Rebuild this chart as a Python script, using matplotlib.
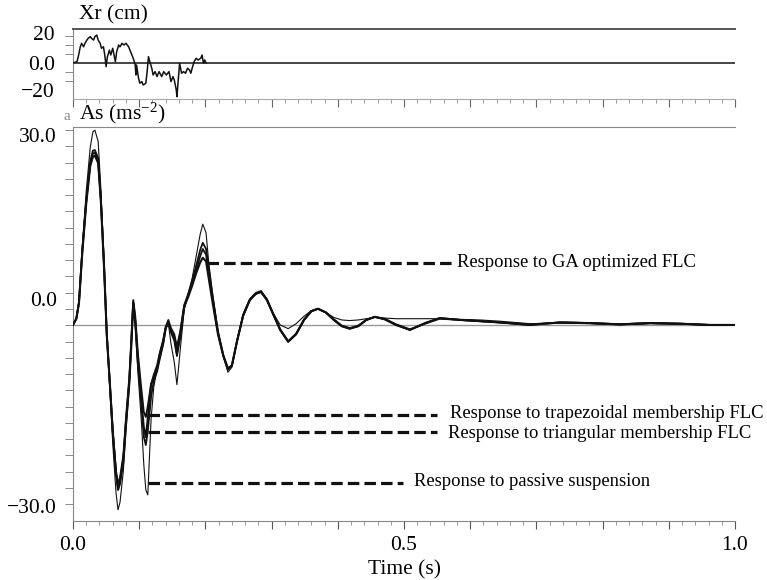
import numpy as np
import matplotlib
matplotlib.use("Agg")
import matplotlib.pyplot as plt

plt.rcParams["font.family"] = ["Liberation Serif", "DejaVu Serif"]
plt.rcParams["mathtext.fontset"] = "custom"
plt.rcParams["mathtext.rm"] = "Liberation Serif"
plt.rcParams["mathtext.it"] = "Liberation Serif:italic"

# ------------------------------------------------------------
# road input Xr (cm)
# ------------------------------------------------------------
t_xr = [0.000, 0.006, 0.008, 0.011, 0.013, 0.016, 0.018, 0.021, 0.023, 0.026,
        0.028, 0.031, 0.033, 0.036, 0.038, 0.041, 0.043, 0.046, 0.048, 0.050,
        0.052, 0.055, 0.057, 0.060, 0.064, 0.066, 0.069, 0.071, 0.074, 0.077,
        0.080, 0.084, 0.086, 0.089, 0.091, 0.094, 0.095, 0.096, 0.099, 0.101,
        0.104, 0.106, 0.110, 0.112, 0.114, 0.116, 0.119, 0.121, 0.124, 0.127,
        0.130, 0.134, 0.137, 0.141, 0.145, 0.148, 0.151, 0.153, 0.156, 0.157,
        0.159, 0.161, 0.164, 0.167, 0.170, 0.173, 0.176, 0.178, 0.180, 0.183,
        0.186, 0.189, 0.193, 0.195, 0.197, 0.199, 0.201]
xr = [0, 1, 4.7, 12, 14.6, 12, 14.6, 17, 18.3, 19.5,
      18.3, 17, 19.5, 20.7, 17, 14.6, 10.9, 12, 5.9, -2.7,
      4.7, 9.6, 5.9, 10.9, 1.0, 8.4, 13.3, 12, 14.6, 13.3,
      14.6, 12, 9.6, 5.9, 3.5, -1.5, -8.9, -1.5, -11.3, -15,
      -13.8, -16.3, -15, -6.4, 4.7, 1, -3.9, -8.9, -6.4, -10.1,
      -6.4, -10.1, -6.4, -8.9, -6.4, -13.8, -10.1, -12.6, -20, -25,
      -12.6, -0.2, -7.6, -6.4, -7.6, -3.9, -5.2, -7.6, -3.9, 1.0,
      3.5, 2.2, 3.5, 5.9, -0.2, 2.2, 0]

# ------------------------------------------------------------
# body acceleration As (ms^-2)
# ------------------------------------------------------------
t_as = [0.000, 0.005, 0.009, 0.014, 0.020, 0.026, 0.030, 0.033, 0.038, 0.042,
        0.047, 0.051, 0.056, 0.060, 0.065, 0.068, 0.071, 0.076, 0.080, 0.085,
        0.088, 0.091, 0.094, 0.098, 0.103, 0.107, 0.110, 0.113, 0.118, 0.122,
        0.127, 0.131, 0.136, 0.140, 0.144, 0.148, 0.153, 0.157, 0.162, 0.168,
        0.174, 0.180, 0.186, 0.192, 0.196, 0.201, 0.205, 0.211, 0.219, 0.227,
        0.234, 0.240, 0.248, 0.257, 0.267, 0.276, 0.284, 0.293, 0.302, 0.313,
        0.325, 0.337, 0.349, 0.360, 0.370, 0.382, 0.394, 0.406, 0.418, 0.431,
        0.443, 0.456, 0.471, 0.488, 0.509, 0.532, 0.554, 0.585, 0.615, 0.645,
        0.690, 0.736, 0.781, 0.826, 0.872, 0.917, 0.962, 1.000]

as_passive = [0, 1.0, 3.8, 12.5, 21.5, 28.5, 31.0, 31.3, 29.5, 22.0,
              10.0, -1.5, -11.0, -19.0, -27.0, -29.7, -28.5, -23.5, -17.0, -10.0,
              -3.5, 3.0, 0.0, -7.5, -15.0, -22.5, -26.5, -27.3, -15.0, -10.0,
              -7.0, -4.5, -2.5, -0.5, 0.3, -3.0, -6.0, -9.6, -4.0, 2.5,
              5.0, 7.5, 11.0, 14.5, 16.2, 14.8, 10.0, 5.0, -1.0, -5.0,
              -7.6, -6.8, -2.5, 1.8, 4.2, 5.2, 5.5, 4.2, 2.0, 0.0,
              -0.6, 0.2, 1.4, 2.3, 2.6, 2.0, 1.2, 0.8, 0.7, 0.8,
              1.0, 1.2, 1.1, 1.0, 1.0, 1.0, 1.0, 0.9, 0.8, 0.6,
              0.2, 0.3, 0.2, 0.0, 0.2, 0.1, 0.0, 0.0]
as_trap = [0, 1.0, 3.6, 12.0, 20.0, 26.3, 28.0, 28.1, 26.8, 20.5,
           9.5, -1.5, -10.0, -17.0, -23.5, -25.5, -24.5, -21.0, -15.0, -8.5,
           -2.5, 4.0, 1.5, -4.5, -10.0, -14.0, -14.8, -13.0, -9.5, -8.0,
           -6.5, -4.5, -2.5, -0.3, 0.8, -0.5, -1.5, -3.5, -1.0, 3.2,
           5.0, 7.0, 9.5, 12.0, 13.2, 12.2, 9.0, 4.5, -1.0, -4.8,
           -7.0, -6.5, -2.5, 1.5, 4.0, 5.0, 5.4, 4.1, 1.9, -0.7,
           -2.6, -1.4, 0.9, 2.2, 2.6, 2.0, 0.9, -0.1, -0.5, -0.1,
           0.8, 1.3, 1.0, 0.1, -0.7, 0.2, 1.0, 0.8, 0.6, 0.4,
           0.1, 0.4, 0.3, 0.1, 0.3, 0.2, 0.0, 0.0]
as_tri = [0, 1.0, 3.5, 11.8, 19.8, 25.8, 27.5, 27.7, 26.4, 20.2,
          9.2, -1.5, -10.0, -17.0, -23.8, -26.0, -25.0, -21.5, -15.5, -9.0,
          -3.0, 3.7, 0.8, -5.5, -12.5, -18.0, -19.3, -17.0, -11.5, -9.0,
          -7.5, -5.5, -3.2, -0.6, 0.5, -1.2, -2.5, -5.0, -2.0, 2.8,
          4.7, 6.6, 8.8, 11.0, 12.2, 11.3, 8.2, 4.0, -1.3, -4.9,
          -7.2, -6.6, -2.5, 1.5, 4.0, 5.0, 5.3, 4.0, 1.8, -0.8,
          -2.7, -1.5, 0.8, 2.2, 2.6, 2.0, 0.8, -0.2, -0.6, -0.2,
          0.8, 1.3, 0.9, 0.0, -0.8, 0.3, 1.1, 0.8, 0.6, 0.4,
          0.0, 0.4, 0.3, 0.1, 0.3, 0.2, 0.0, 0.0]
as_ga = [0, 1.0, 3.5, 11.5, 19.5, 25.5, 27.0, 27.2, 26.0, 20.0,
         9.0, -1.5, -10.0, -17.0, -24.0, -26.5, -25.5, -22.0, -16.0, -9.5,
         -3.5, 3.5, 0.5, -6.0, -12.0, -16.5, -18.0, -15.0, -9.5, -8.5,
         -7.0, -5.0, -3.0, -0.5, 0.3, -1.0, -2.0, -4.5, -1.5, 3.0,
         4.5, 6.3, 8.3, 10.0, 10.8, 10.2, 7.5, 3.5, -1.5, -5.0,
         -7.0, -6.5, -2.5, 1.5, 4.0, 5.0, 5.3, 4.0, 1.8, -0.8,
         -2.7, -1.5, 0.8, 2.2, 2.6, 2.0, 0.8, -0.2, -0.6, -0.2,
         0.8, 1.3, 0.9, 0.0, -0.8, 0.3, 1.1, 0.8, 0.6, 0.4,
         0.0, 0.4, 0.3, 0.1, 0.3, 0.2, 0.0, 0.0]

# annotations
ann_text = ["Response to GA optimized FLC",
            "Response to trapezoidal membership FLC",
            "Response to triangular membership FLC",
            "Response to passive suspension"]
ann_y = [10.0, -14.5, -17.2, -25.4]
ann_x0 = [0.202, 0.113, 0.113, 0.113]
ann_x1 = [0.573, 0.550, 0.550, 0.498]
ann_tx = [0.580, 0.569, 0.566, 0.515]
ann_ty = [10.0, -14.2, -17.5, -25.2]

W, H = 767, 580
fig = plt.figure(figsize=(W / 100, H / 100), dpi=100)

ax1 = fig.add_axes([73 / W, 1 - 99 / H, 662 / W, 70 / H])
ax2 = fig.add_axes([73 / W, 1 - 521 / H, 662 / W, 394 / H])

# ---- top panel --------------------------------------------------
ax1.axhline(0, color="#444444", lw=1.4, zorder=1)
ax1.plot(t_xr, xr, color="#111111", lw=1.1, zorder=3)
ax1.set_xlim(0, 1)
ax1.set_ylim(-26.7, 25.2)
ax1.spines["right"].set_visible(False)
ax1.spines["top"].set_color("#555555")
ax1.spines["top"].set_linewidth(1.4)
ax1.spines["left"].set_color("#888888")
ax1.spines["bottom"].set_color("#aaaaaa")
ax1.set_xticks(np.arange(0, 1.001, 0.1))
ax1.set_xticks(np.arange(0, 1.001, 0.02), minor=True)
ax1.set_xticklabels([])
ax1.tick_params(axis="x", which="major", length=6, color="#666666", direction="out")
ax1.tick_params(axis="x", which="minor", length=3, color="#888888", direction="out")
ax1.set_yticks([22.2, 0, -20])
ax1.set_yticklabels(["20", "0.0", "\u221220"], fontsize=15.5)
ax1.set_yticks(np.linspace(-20, 20, 7), minor=True)
ax1.tick_params(axis="y", which="major", length=0, pad=13)
ax1.tick_params(axis="y", which="minor", length=6, color="#777777", direction="out")

fig.text(79 / W, 1 - 15 / H, "Xr (cm)", fontsize=15.5, va="center", ha="left")

# ---- bottom panel -----------------------------------------------
ax2.axhline(0, color="#999999", lw=1.0, zorder=1)
ax2.plot(t_as, as_passive, color="#111111", lw=0.8, zorder=3)
ax2.plot(t_as, as_trap, color="#111111", lw=1.3, zorder=3)
ax2.plot(t_as, as_tri, color="#111111", lw=1.3, zorder=3)
ax2.plot(t_as, as_ga, color="#111111", lw=1.5, zorder=3)

for i in range(len(ann_text)):
    ax2.plot([ann_x0[i], ann_x1[i]], [ann_y[i], ann_y[i]], color="#111111",
             lw=2.3, dashes=(3.6, 1.6), solid_capstyle="butt", zorder=4)
    ax2.text(ann_tx[i], ann_ty[i], ann_text[i], fontsize=13.4, va="center", ha="left")

ax2.set_xlim(0, 1)
ax2.set_ylim(-31.5, 31.8)
ax2.spines["right"].set_visible(False)
ax2.spines["top"].set_color("#888888")
ax2.spines["left"].set_color("#888888")
ax2.spines["bottom"].set_color("#888888")
ax2.set_xticks(np.arange(0, 1.001, 0.1))
ax2.set_xticklabels(["0.0", "", "", "", "", "0.5", "", "", "", "", "1.0"], fontsize=15.5)
ax2.set_xticks(np.arange(0, 1.001, 0.02), minor=True)
ax2.tick_params(axis="x", which="major", length=6, color="#555555", direction="out", pad=5)
ax2.tick_params(axis="x", which="minor", length=3, color="#888888", direction="out")
ax2.set_yticks([30.5, 4.2, -29.1])
ax2.set_yticklabels(["30.0", "0.0", "\u221230.0"], fontsize=15.5)
ax2.set_yticks(np.linspace(-28.8, 31.3, 24), minor=True)
ax2.tick_params(axis="y", which="major", length=0, pad=11.5)
ax2.tick_params(axis="y", which="minor", length=6, color="#777777", direction="out")

fig.text(79 / W, 1 - 113 / H, "As (ms$^{-2}$)", fontsize=15.5, va="center", ha="left")
fig.text(63 / W, 1 - 116 / H, "a", fontsize=11, color="#888888", va="center", ha="left")
fig.text(404 / W, 1 - 570 / H, "Time (s)", fontsize=15.5, va="center", ha="center")

fig.savefig("out.png", dpi=100)
